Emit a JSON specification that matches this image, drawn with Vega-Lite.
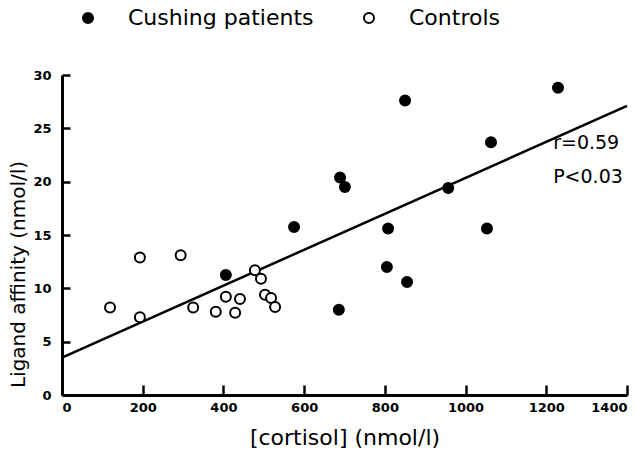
{
  "$schema": "https://vega.github.io/schema/vega-lite/v6.json",
  "width": 565,
  "height": 320,
  "autosize": {"type": "none"},
  "padding": {"left": 62, "top": 75, "right": 17, "bottom": 62},
  "background": "white",
  "config": {
    "view": {"stroke": null},
    "font": "DejaVu Sans"
  },
  "datasets": {
    "pts": [
      {"cortisol": 1229, "affinity": 28.8, "group": "Cushing patients"},
      {"cortisol": 850, "affinity": 27.6, "group": "Cushing patients"},
      {"cortisol": 1063, "affinity": 23.7, "group": "Cushing patients"},
      {"cortisol": 689, "affinity": 20.4, "group": "Cushing patients"},
      {"cortisol": 701, "affinity": 19.5, "group": "Cushing patients"},
      {"cortisol": 957, "affinity": 19.4, "group": "Cushing patients"},
      {"cortisol": 575, "affinity": 15.75, "group": "Cushing patients"},
      {"cortisol": 808, "affinity": 15.6, "group": "Cushing patients"},
      {"cortisol": 1053, "affinity": 15.6, "group": "Cushing patients"},
      {"cortisol": 805, "affinity": 12.0, "group": "Cushing patients"},
      {"cortisol": 855, "affinity": 10.6, "group": "Cushing patients"},
      {"cortisol": 406, "affinity": 11.25, "group": "Cushing patients"},
      {"cortisol": 686, "affinity": 8.0, "group": "Cushing patients"},
      {"cortisol": 119, "affinity": 8.2, "group": "Controls"},
      {"cortisol": 193, "affinity": 12.9, "group": "Controls"},
      {"cortisol": 193, "affinity": 7.3, "group": "Controls"},
      {"cortisol": 294, "affinity": 13.1, "group": "Controls"},
      {"cortisol": 325, "affinity": 8.2, "group": "Controls"},
      {"cortisol": 381, "affinity": 7.8, "group": "Controls"},
      {"cortisol": 406, "affinity": 9.2, "group": "Controls"},
      {"cortisol": 429, "affinity": 7.7, "group": "Controls"},
      {"cortisol": 441, "affinity": 9.0, "group": "Controls"},
      {"cortisol": 478, "affinity": 11.7, "group": "Controls"},
      {"cortisol": 493, "affinity": 10.9, "group": "Controls"},
      {"cortisol": 503, "affinity": 9.4, "group": "Controls"},
      {"cortisol": 518, "affinity": 9.1, "group": "Controls"},
      {"cortisol": 528, "affinity": 8.25, "group": "Controls"}
    ],
    "fit": [
      {"cortisol": 0, "affinity": 3.5},
      {"cortisol": 1400, "affinity": 27.1}
    ],
    "notes": [
      {"cortisol": 1217, "affinity": 23.6, "label": "r=0.59"},
      {"cortisol": 1217, "affinity": 20.4, "label": "P<0.03"}
    ]
  },
  "resolve": {"axis": {"x": "independent", "y": "independent"}},
  "layer": [
    {
      "data": {"name": "fit"},
      "mark": {"type": "line", "color": "black", "strokeWidth": 2.5},
      "encoding": {
        "x": {"field": "cortisol", "type": "quantitative", "scale": {"domain": [0, 1400], "nice": false}, "axis": null},
        "y": {"field": "affinity", "type": "quantitative", "scale": {"domain": [0, 30], "nice": false}, "axis": null}
      }
    },
    {
      "data": {"name": "pts"},
      "mark": {"type": "point", "shape": "circle", "filled": true, "stroke": "black", "strokeWidth": 2, "size": 100, "opacity": 1},
      "encoding": {
        "x": {
          "field": "cortisol", "type": "quantitative",
          "scale": {"domain": [0, 1400], "nice": false},
          "axis": {"orient": "bottom", "title": "[cortisol] (nmol/l)", "values": [0, 200, 400, 600, 800, 1000, 1200, 1400], "format": "d", "grid": true, "gridColor": "black", "gridOpacity": 1, "gridWidth": 2.5, "gridDash": [10, 310], "gridDashOffset": 10, "ticks": false, "tickSize": 0, "domainColor": "black", "domainWidth": 3, "labelFont": "DejaVu Sans", "labelFontWeight": "bold", "labelFontSize": 13, "labelColor": "black", "labelPadding": 6, "titleFont": "DejaVu Sans", "titleFontWeight": "normal", "titleFontSize": 22, "titleColor": "black", "titlePadding": 13}
        },
        "y": {
          "field": "affinity", "type": "quantitative",
          "scale": {"domain": [0, 30], "nice": false},
          "axis": {"orient": "left", "title": "Ligand affinity (nmol/l)", "values": [0, 5, 10, 15, 20, 25, 30], "format": "d", "grid": true, "gridColor": "black", "gridOpacity": 1, "gridWidth": 2.5, "gridDash": [8, 1000], "ticks": false, "tickSize": 0, "domainColor": "black", "domainWidth": 3, "labelFont": "DejaVu Sans", "labelFontWeight": "bold", "labelFontSize": 13, "labelColor": "black", "labelPadding": 11, "titleFont": "DejaVu Sans", "titleFontWeight": "normal", "titleFontSize": 20, "titleColor": "black", "titleY": 199, "titleX": -34}
        },
        "fill": {
          "field": "group", "type": "nominal",
          "scale": {"domain": ["Cushing patients", "Controls"], "range": ["black", "white"]},
          "legend": {
            "title": null,
            "orient": "none",
            "direction": "horizontal",
            "legendX": 15,
            "legendY": -68,
            "padding": 0,
            "symbolType": "circle",
            "symbolSize": 100,
            "symbolStrokeColor": "black",
            "symbolStrokeWidth": 2,
            "labelFont": "DejaVu Sans",
            "labelFontSize": 22,
            "labelColor": "black",
            "labelOffset": 29,
            "columnPadding": 44,
            "labelLimit": 400
          }
        }
      }
    },
    {
      "data": {"name": "notes"},
      "mark": {"type": "text", "align": "left", "baseline": "middle", "fontSize": 19, "font": "DejaVu Sans", "color": "black"},
      "encoding": {
        "x": {"field": "cortisol", "type": "quantitative", "axis": null},
        "y": {"field": "affinity", "type": "quantitative", "axis": null},
        "text": {"field": "label"}
      }
    }
  ]
}
